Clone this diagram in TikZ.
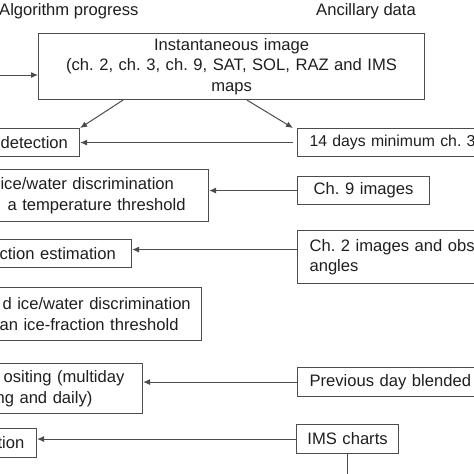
\documentclass[tikz,border=0pt]{standalone}
\usepackage{fontspec}
\setmainfont{Liberation Sans}
\usetikzlibrary{arrows.meta}
\definecolor{linegray}{gray}{0.3}
\definecolor{textgray}{gray}{0.12}
\frenchspacing

\begin{document}
\begin{tikzpicture}[x=1pt,y=-1pt,
	every node/.style={font=\fontsize{16.6}{20.5}\selectfont, text=textgray},
	algbox/.style={draw=linegray, line width=1.1pt, inner xsep=10pt, inner ysep=0pt, align=left, anchor=north west},
	databox/.style={algbox, inner xsep=12pt},
	flow/.style={draw=linegray, line width=1pt, -{Latex[length=7pt,width=6pt]}},
	conn/.style={draw=linegray, line width=1pt}]
	\useasboundingbox (0,0) rectangle (474,474);
	\clip (0,0) rectangle (474,474);

	% column headings
	\node[anchor=base west, inner sep=0pt] (hdalg) at (-1,15) {Algorithm progress};
	\node[anchor=base west, inner sep=0pt] (hddata) at (316,15) {Ancillary data};

	% algorithm steps
	\node[algbox, inner xsep=12pt, align=center, text width=362pt, minimum height=66pt] (img) at (38,33)
		{Instantaneous image\\(ch. 2, ch. 3, ch. 9, SAT, SOL, RAZ and IMS\\maps};
	\node[algbox, text width=69pt, minimum height=28pt] (det) at (-10,128) {detection};
	\node[algbox, text width=198pt, minimum height=52pt] (ice) at (-10,169)
		{ice/water discrimination\\\hspace*{7pt}a temperature threshold};
	\node[algbox, text width=122pt, minimum height=28pt] (frac) at (-11,239) {ction estimation};
	\node[algbox, text width=192pt, minimum height=53pt] (thr) at (-11,287)
		{\hspace*{3pt}d ice/water discrimination\\an ice-fraction threshold};
	\node[algbox, text width=137pt, minimum height=50pt] (comp) at (-15,363)
		{\hspace*{8pt}ositing (multiday\\ng and daily)};
	\node[algbox, text width=29pt, minimum height=29pt] (last) at (-13,428) {tion};

	% ancillary data
	\node[databox, text width=200pt, minimum height=28pt, font=\fontsize{15.8}{20}\selectfont] (days) at (297,128) {14 days minimum ch. 3};
	\node[databox, align=center, text width=108pt, minimum height=28pt] (ch9) at (297,176) {Ch. 9 images};
	\node[databox, text width=200pt, minimum height=53pt] (ch2) at (297,230) {Ch. 2 images and obs\\angles};
	\node[databox, text width=200pt, minimum height=29pt] (prev) at (297,367) {Previous day blended};
	\node[databox, inner xsep=8pt, align=center, text width=86pt, minimum height=29pt] (ims) at (296,424) {IMS charts};

	% connectors
	\coordinate (entry) at (-5,75);
	\coordinate (fracin) at ([yshift=4pt]frac.east);
	\coordinate (bottom) at (0,480);
	\draw[flow] (entry) -- (entry -| img.west);
	\draw[flow] ([xshift=85pt]img.south west) -- (det.north east);
	\draw[flow] ([xshift=209pt]img.south west) -- ([xshift=-4pt]days.north west);
	\draw[flow, shorten <=4pt] (days.west) -- (days.west -| det.east);
	\draw[flow] (ch9.west) -- (ch9.west -| ice.east);
	\draw[flow] (fracin -| ch2.west) -- (fracin);
	\draw[flow] (prev.west) -- (prev.west -| comp.east);
	\draw[flow] (ims.west) -- (ims.west -| last.east);
	\draw[conn] (ims.south) -- (ims.south |- bottom);
\end{tikzpicture}
\end{document}
